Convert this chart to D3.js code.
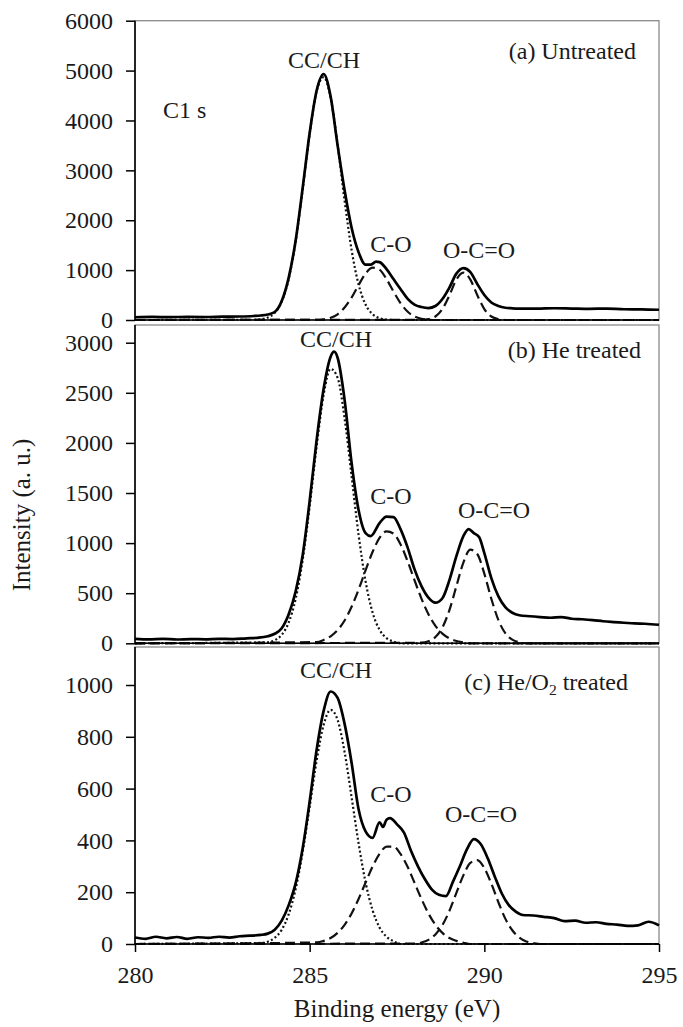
<!DOCTYPE html>
<html><head><meta charset="utf-8">
<script src="https://cdn.jsdelivr.net/npm/d3@7"></script>
<style>
html,body{margin:0;padding:0;background:#fff;}
svg{display:block;}
svg text{font-family:"Liberation Serif","Times New Roman",Tinos,serif !important;fill:#1a1a1a;}
</style></head><body>
<svg id="chart" width="683" height="1027" font-family="Liberation Serif, Times New Roman, serif"></svg>
<script>
// ---------------- DATA ----------------
const xTicks = [280, 285, 290, 295];
const yTicksA = [0, 1000, 2000, 3000, 4000, 5000, 6000];
const yTicksB = [0, 500, 1000, 1500, 2000, 2500, 3000];
const yTicksC = [0, 200, 400, 600, 800, 1000];
const peakNames = ["CC/CH", "C-O", "O-C=O"];
const panelTags = ["(a) Untreated", "(b) He treated", "(c) He/O|2| treated"];
const regionLabel = "C1 s";
const xTitle = "Binding energy (eV)";
const yTitle = "Intensity (a. u.)";

// (a) Untreated  [binding energy eV, intensity]
const envA = [[280,55],[280.5,62],[281,57],[281.5,63],[282,60],[282.5,66],[283,70],[283.4,80],[283.6,90],[283.8,110],
 [284.0,160],[284.2,380],[284.4,850],[284.6,1600],[284.8,2650],[285.0,3750],[285.2,4600],[285.4,4930],[285.6,4480],
 [285.8,3500],[286.0,2600],[286.2,1850],[286.4,1360],[286.6,1110],[286.75,1110],[286.9,1170],[287.0,1160],[287.2,1020],
 [287.4,820],[287.6,620],[287.8,430],[288.0,310],[288.2,260],[288.4,240],[288.6,280],[288.8,420],[289.0,650],[289.2,930],
 [289.4,1040],[289.6,960],[289.8,720],[290.0,500],[290.2,350],[290.4,280],[290.6,245],[290.8,235],[291.0,230],[291.5,228],
 [292.0,236],[292.5,230],[293.0,224],[293.5,230],[294.0,215],[294.5,212],[295.0,205]];
const ccA = [[280,0],[283.4,5],[283.6,14],[283.8,48],[284.0,144],[284.2,371],[284.4,823],[284.6,1581],[284.8,2615],
 [285.0,3729],[285.2,4587],[285.4,4866],[285.6,4453],[285.8,3515],[286.0,2392],[286.2,1405],[286.4,712],[286.6,311],
 [286.8,117],[287.0,38],[287.2,10],[287.4,0],[295,0]];
const coA = [[280,0],[285.2,4],[285.4,15],[285.6,45],[285.8,115],[286.0,250],[286.2,450],[286.4,700],[286.6,930],[286.8,1050],
 [287.0,1010],[287.2,820],[287.4,570],[287.6,340],[287.8,170],[288.0,70],[288.2,25],[288.4,8],[288.6,0],[295,0]];
const ocoA = [[280,0],[288.2,3],[288.4,16],[288.6,70],[288.8,220],[289.0,495],[289.2,810],[289.4,950],[289.6,810],[289.8,495],
 [290.0,220],[290.2,70],[290.4,16],[290.6,0],[295,0]];

// (b) He treated
const envB = [[280,45],[280.4,40],[280.8,44],[281.2,38],[281.6,42],[282,40],[282.4,45],[282.8,42],[283.2,50],[283.5,55],
 [283.8,70],[284.0,95],[284.2,150],[284.4,290],[284.6,520],[284.8,880],[285.0,1420],[285.2,2030],[285.4,2540],[285.6,2860],
 [285.7,2910],[285.8,2850],[286.0,2430],[286.2,1800],[286.4,1330],[286.6,1100],[286.75,1070],[287.0,1200],[287.2,1265],
 [287.4,1260],[287.6,1140],[287.8,960],[288.0,740],[288.2,570],[288.4,455],[288.6,405],[288.8,450],[289.0,630],[289.2,870],
 [289.4,1070],[289.55,1140],[289.7,1100],[289.85,1060],[290.0,900],[290.2,650],[290.4,470],[290.6,360],[290.8,305],
 [291.0,280],[291.3,270],[291.6,262],[291.9,255],[292.2,262],[292.5,245],[292.8,240],[293.1,232],[293.4,220],[293.7,212],
 [294.0,205],[294.3,198],[294.6,195],[295,185]];
const ccB = [[280,0],[283.8,10],[284.0,31],[284.2,85],[284.4,208],[284.6,445],[284.8,833],[285.0,1368],[285.2,1968],
 [285.4,2480],[285.6,2739],[285.8,2650],[286.0,2246],[286.2,1668],[286.4,1085],[286.6,619],[286.8,309],[287.0,135],
 [287.2,52],[287.4,18],[287.6,0],[295,0]];
const coB = [[280,0],[285.2,12],[285.4,34],[285.6,70],[285.8,131],[286.0,227],[286.2,364],[286.4,536],[286.6,728],[286.8,911],
 [287.0,1051],[287.2,1117],[287.4,1095],[287.6,988],[287.8,822],[288.0,631],[288.2,446],[288.4,290],[288.6,174],[288.8,97],
 [289.0,49],[289.2,23],[289.4,10],[289.6,0],[295,0]];
const ocoB = [[280,0],[288.2,6],[288.4,20],[288.6,62],[288.8,158],[289.0,331],[289.2,570],[289.4,806],[289.6,934],[289.8,889],
 [290.0,695],[290.2,445],[290.4,234],[290.6,101],[290.8,36],[291.0,10],[291.2,0],[295,0]];

// (c) He/O2 treated
const envC = [[280,25],[280.3,20],[280.6,28],[280.9,22],[281.2,27],[281.5,20],[281.8,26],[282.1,24],[282.4,28],[282.7,25],
 [283.0,30],[283.3,32],[283.6,35],[283.8,40],[284.0,55],[284.2,90],[284.4,150],[284.6,235],[284.8,370],[285.0,550],
 [285.2,750],[285.4,900],[285.6,975],[285.8,950],[286.0,850],[286.2,700],[286.4,520],[286.6,435],[286.8,410],[287.0,470],
 [287.1,452],[287.2,480],[287.3,486],[287.5,462],[287.7,430],[287.9,360],[288.1,300],[288.3,250],[288.5,210],[288.7,190],
 [288.9,185],[289.1,240],[289.3,300],[289.5,365],[289.7,405],[289.9,385],[290.1,330],[290.3,260],[290.5,195],[290.7,150],
 [290.9,125],[291.1,112],[291.4,110],[291.7,105],[292.0,100],[292.3,88],[292.6,90],[292.9,82],[293.2,84],[293.5,78],
 [293.8,75],[294.1,70],[294.4,72],[294.7,86],[295.0,72]];
const ccC = [[280,0],[283.6,4],[283.8,9],[284.0,24],[284.2,55],[284.4,115],[284.6,213],[284.8,356],[285.0,530],[285.2,708],
 [285.4,846],[285.6,904],[285.8,865],[286.0,741],[286.2,567],[286.4,389],[286.6,238],[286.8,131],[287.0,64],[287.2,28],
 [287.4,11],[287.6,0],[295,0]];
const coC = [[280,0],[285.2,6],[285.4,12],[285.6,23],[285.8,43],[286.0,74],[286.2,118],[286.4,174],[286.6,237],[286.8,299],
 [287.0,348],[287.2,376],[287.4,376],[287.6,348],[287.8,299],[288.0,237],[288.2,174],[288.4,118],[288.6,74],[288.8,43],
 [289.0,23],[289.2,12],[289.4,5],[289.6,0],[295,0]];
const ocoC = [[280,0],[288.0,2],[288.2,6],[288.4,16],[288.6,37],[288.8,73],[289.0,128],[289.2,197],[289.4,265],[289.6,313],
 [289.8,324],[290.0,293],[290.2,233],[290.4,162],[290.6,98],[290.8,53],[291.0,25],[291.2,10],[291.4,4],[291.6,0],[295,0]];

// ---------------- LAYOUT ----------------
const FONT = "Liberation Serif, Times New Roman, serif";
const svg = d3.select("#chart");
const x = d3.scaleLinear().domain([280, 295]).range([135, 659]);
const FS = 24;

const panels = [
  {env: envA, cc: ccA, co: coA, oco: ocoA, ticks: yTicksA, tag: panelTags[0],
   zeroY: 320, topY: 20.7, frameTop: 20.7,
   ann: {cc: [324, 68], co: [391, 252], oco: [479, 258], tag: [636, 58.5], reg: [163, 118]}},
  {env: envB, cc: ccB, co: coB, oco: ocoB, ticks: yTicksB, tag: panelTags[1],
   zeroY: 643.3, topY: 342.7, frameTop: 325,
   ann: {cc: [336, 347], co: [391, 504], oco: [494, 518], tag: [641, 358]}},
  {env: envC, cc: ccC, co: coC, oco: ocoC, ticks: yTicksC, tag: panelTags[2],
   zeroY: 944, topY: 685, frameTop: 647,
   ann: {cc: [336, 678], co: [391, 802], oco: [481, 822], tag: [628, 690]}}
];

function txt(sel) { return sel.attr("font-family", FONT).style("fill", "#1a1a1a"); }

panels.forEach((p, i) => {
  const yMax = p.ticks[p.ticks.length - 1];
  const y = d3.scaleLinear().domain([0, yMax]).range([p.zeroY, p.topY]);
  const g = svg.append("g");

  g.append("rect").attr("x", x.range()[0]).attr("y", p.frameTop)
    .attr("width", x.range()[1] - x.range()[0]).attr("height", p.zeroY - p.frameTop)
    .attr("fill", "none").attr("stroke", "#8a8a8a").attr("stroke-width", 1.3);

  const line = d3.line().x(d => x(d[0])).y(d => y(d[1])).curve(d3.curveMonotoneX);

  g.append("path").datum(p.cc).attr("d", line).attr("fill", "none")
    .attr("stroke", "#111").attr("stroke-width", 2.2).attr("stroke-dasharray", "2,2.4");
  [p.co, p.oco].forEach(s => {
    g.append("path").datum(s).attr("d", line).attr("fill", "none")
      .attr("stroke", "#111").attr("stroke-width", 2.2).attr("stroke-dasharray", "10,5");
  });
  g.append("path").datum(p.env).attr("d", line).attr("fill", "none")
    .attr("stroke", "#000").attr("stroke-width", 2.7).attr("stroke-linejoin", "round");

  g.append("line").attr("x1", x.range()[0]).attr("x2", x.range()[0])
    .attr("y1", p.frameTop).attr("y2", p.zeroY).attr("stroke", "#000").attr("stroke-width", 1.6);
  g.append("line").attr("x1", x.range()[0]).attr("x2", x.range()[1])
    .attr("y1", p.zeroY).attr("y2", p.zeroY).attr("stroke", "#000").attr("stroke-width", 1.6);

  const ya = g.append("g").attr("transform", `translate(${x.range()[0]},0)`)
    .call(d3.axisLeft(y).tickValues(p.ticks).tickSize(9).tickSizeOuter(0).tickPadding(13).tickFormat(d3.format("d")));
  ya.attr("font-family", FONT).attr("font-size", FS);
  ya.select(".domain").remove();
  ya.selectAll(".tick line").attr("stroke", "#000").attr("stroke-width", 1.5);
  txt(ya.selectAll(".tick text")).attr("font-size", FS);

  if (i === panels.length - 1) {
    const xa = g.append("g").attr("transform", `translate(0,${p.zeroY})`)
      .call(d3.axisBottom(x).tickValues(xTicks).tickSize(8).tickSizeOuter(0).tickPadding(14).tickFormat(d3.format("d")));
    xa.attr("font-family", FONT).attr("font-size", FS);
    xa.select(".domain").remove();
    xa.selectAll(".tick line").attr("stroke", "#000").attr("stroke-width", 1.5);
    txt(xa.selectAll(".tick text")).attr("font-size", FS);
  }

  const a = p.ann;
  txt(g.append("text")).attr("x", a.cc[0]).attr("y", a.cc[1]).attr("text-anchor", "middle").attr("font-size", FS).text(peakNames[0]);
  txt(g.append("text")).attr("x", a.co[0]).attr("y", a.co[1]).attr("text-anchor", "middle").attr("font-size", FS).text(peakNames[1]);
  txt(g.append("text")).attr("x", a.oco[0]).attr("y", a.oco[1]).attr("text-anchor", "middle").attr("font-size", FS).text(peakNames[2]);
  const tg = txt(g.append("text")).attr("x", a.tag[0]).attr("y", a.tag[1]).attr("text-anchor", "end").attr("font-size", FS);
  p.tag.split("|").forEach((part, k) => {
    if (k % 2 === 1) tg.append("tspan").attr("font-size", FS * 0.65).attr("dy", 5).text(part);
    else tg.append("tspan").attr("dy", k === 0 ? 0 : -5).text(part);
  });
  if (a.reg) txt(g.append("text")).attr("x", a.reg[0]).attr("y", a.reg[1]).attr("font-size", FS).text(regionLabel);
});

txt(svg.append("text")).attr("x", 397).attr("y", 1017).attr("text-anchor", "middle").attr("font-size", 25).text(xTitle);
txt(svg.append("text")).attr("transform", "translate(30,515) rotate(-90)").attr("text-anchor", "middle").attr("font-size", 25).text(yTitle);
</script>
</body></html>
